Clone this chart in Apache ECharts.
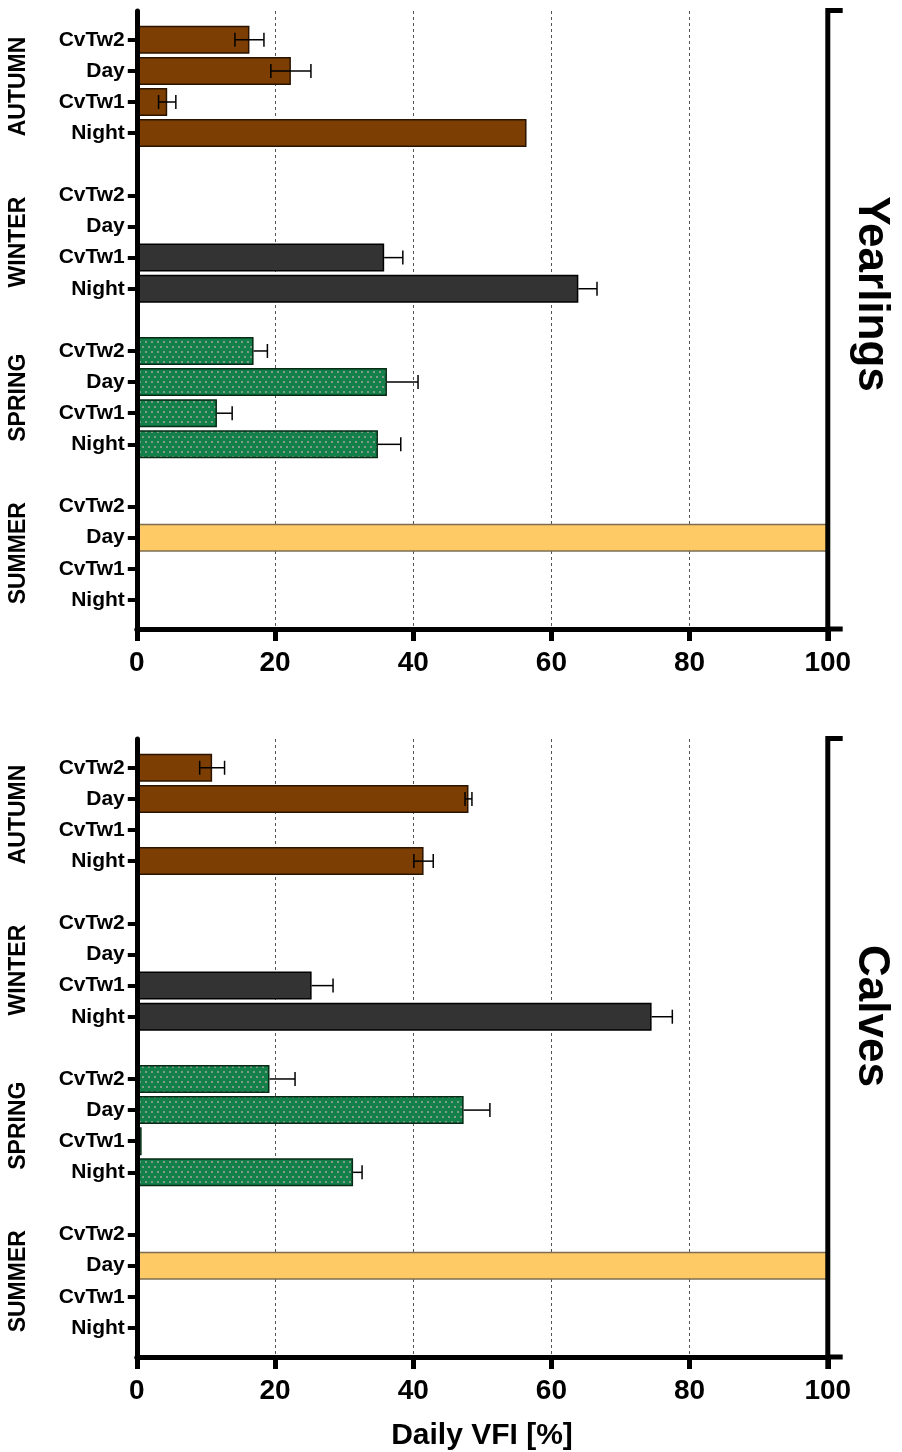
<!DOCTYPE html>
<html>
<head>
<meta charset="utf-8">
<script src="https://cdn.jsdelivr.net/npm/echarts@6/dist/echarts.min.js"></script>
<style>
html,body{margin:0;padding:0;background:#fff;}
#chart{width:902px;height:1452px;}
</style>
</head>
<body>
<div id="chart"></div>
<script>
// ---------------- data ----------------
const seasons = ['AUTUMN', 'WINTER', 'SPRING', 'SUMMER'];
const rowLabels = ['CvTw2', 'Day', 'CvTw1', 'Night'];
const panelTitles = ['Yearlings', 'Calves'];
const xTickValues = [0, 20, 40, 60, 80, 100];
const xTitle = 'Daily VFI [%]';

// Yearlings (rows: CvTw2, Day, CvTw1, Night)
const yearAutumn = [16.3, 22.3, 4.4, 56.4];
const yearAutumnErr = [2.1, 2.9, 1.25, 0];
const yearWinter = [0, 0, 35.8, 63.9];
const yearWinterErr = [0, 0, 2.7, 2.7];
const yearSpring = [16.9, 36.2, 11.6, 34.9];
const yearSpringErr = [2.0, 4.5, 2.2, 3.3];
const yearSummer = [0, 100, 0, 0];
const yearSummerErr = [0, 0, 0, 0];

// Calves
const calfAutumn = [10.9, 48.0, 0, 41.5];
const calfAutumnErr = [1.8, 0.5, 0, 1.4];
const calfWinter = [0, 0, 25.3, 74.5];
const calfWinterErr = [0, 0, 3.1, 3.0];
const calfSpring = [19.2, 47.3, 0.7, 31.3];
const calfSpringErr = [3.7, 3.8, 0, 1.3];
const calfSummer = [0, 100, 0, 0];
const calfSummerErr = [0, 0, 0, 0];

// ---------------- styling ----------------
const FONT = "'Liberation Sans', Arial, Helvetica, sans-serif";
const brown = '#7C3E03';
const dark = '#333333';
const green = '#13804A';
const yellow = '#FDCA66';

function dotPattern() {
  const c = document.createElement('canvas');
  c.width = 6; c.height = 10;
  const ctx = c.getContext('2d');
  ctx.fillStyle = green; ctx.fillRect(0, 0, 6, 10);
  ctx.fillStyle = '#7f9d8a';
  ctx.fillRect(1, 1, 2, 2);
  ctx.fillRect(4, 6, 2, 2);
  return c;
}
const greenFill = { image: dotPattern(), repeat: 'repeat' };

const seasonStyles = [
  { color: brown, borderColor: '#2a1400', errBoth: true },
  { color: dark, borderColor: '#000000', errBoth: false },
  { color: greenFill, borderColor: '#062a14', errBoth: false },
  { color: yellow, borderColor: '#7d6e50', errBoth: false }
];

// categories: 4 groups of 4 rows separated by gap rows
const catIds = [];
seasons.forEach((s, k) => {
  rowLabels.forEach(r => catIds.push(s + '|' + r));
  if (k < seasons.length - 1) catIds.push('gap' + k);
});
const isGap = v => String(v).indexOf('gap') === 0;

// ---------------- layout ----------------
const LEFT = 136.8, RIGHT = 902 - 827.8;
const panelOffsets = [0, 728];
const FRAME_TOP = 11, FRAME_H = 618;
const BAR_TOP = 24.2, BAR_H = 591.3;

const panels = [
  { means: [yearAutumn, yearWinter, yearSpring, yearSummer],
    errs: [yearAutumnErr, yearWinterErr, yearSpringErr, yearSummerErr] },
  { means: [calfAutumn, calfWinter, calfSpring, calfSummer],
    errs: [calfAutumnErr, calfWinterErr, calfSpringErr, calfSummerErr] }
];

const grid = [], xAxis = [], yAxis = [], series = [];

panels.forEach((p, pi) => {
  const off = panelOffsets[pi];
  const gFrame = grid.length;
  grid.push({ left: LEFT, right: RIGHT, top: FRAME_TOP + off, height: FRAME_H, containLabel: false });
  const gBar = grid.length;
  grid.push({ left: LEFT, right: RIGHT, top: BAR_TOP + off, height: BAR_H, containLabel: false });

  // frame axes
  const xF = xAxis.length;
  xAxis.push({
    type: 'value', gridIndex: gFrame, min: 0, max: 100, interval: 20, z: 0,
    axisLine: { show: true, lineStyle: { color: '#000', width: 5 } },
    axisTick: { show: true, length: 12, lineStyle: { color: '#000', width: 5 } },
    axisLabel: { show: true, fontFamily: FONT, fontSize: 28, fontWeight: 'bold', color: '#000', margin: 20,
      formatter: v => xTickValues.indexOf(v) >= 0 ? String(v) : '' },
    splitLine: { show: true, lineStyle: { color: '#555', width: 1, type: [3, 3] } }
  });
  const yF = yAxis.length;
  yAxis.push({
    type: 'value', gridIndex: gFrame, min: 0, max: 1, z: 10,
    axisLine: { show: true, onZero: false, lineStyle: { color: '#000', width: 5 } },
    axisTick: { show: false }, axisLabel: { show: false }, splitLine: { show: false }
  });

  // bar axes
  const xB = xAxis.length;
  xAxis.push({
    type: 'value', gridIndex: gBar, min: 0, max: 100, interval: 20, show: false,
    splitLine: { show: false }
  });
  const yB = yAxis.length;
  yAxis.push({
    type: 'category', gridIndex: gBar, data: catIds, inverse: true, z: 5,
    axisLine: { show: false },
    axisTick: { show: true, alignWithLabel: true, length: 9, interval: (i, v) => !isGap(v),
      lineStyle: { color: '#000', width: 4 } },
    axisLabel: { show: true, interval: 0, fontFamily: FONT, fontSize: 21, fontWeight: 'bold', color: '#000', margin: 12,
      formatter: v => isGap(v) ? '' : v.split('|')[1] },
    splitLine: { show: false }
  });

  const errData = [];
  seasons.forEach((s, k) => {
    const data = catIds.map(() => '-');
    p.means[k].forEach((m, j) => { data[k * 5 + j] = m; });
    const st = seasonStyles[k];
    series.push({
      type: 'bar', name: panelTitles[pi] + ' ' + s, xAxisIndex: xB, yAxisIndex: yB,
      data: data, barWidth: 28, barGap: '-100%', z: 2,
      itemStyle: { color: st.color, borderColor: st.borderColor, borderWidth: 1.5 },
      silent: true, animation: false
    });
    p.errs[k].forEach((e, j) => {
      if (e > 0) errData.push([k * 5 + j, p.means[k][j], e, st.errBoth ? 1 : 0]);
    });
  });

  series.push({
    type: 'custom', xAxisIndex: xB, yAxisIndex: yB, z: 4, silent: true, animation: false,
    encode: { x: [1, 2], y: 0 },
    data: errData,
    renderItem: (params, api) => {
      const yi = api.value(0), m = api.value(1), e = api.value(2), both = api.value(3);
      const pEnd = api.coord([m + e, yi]);
      const pStart = api.coord([both ? m - e : m, yi]);
      const h = 7;
      const st = { stroke: '#000', lineWidth: 1.5 };
      const kids = [
        { type: 'line', shape: { x1: pStart[0], y1: pStart[1], x2: pEnd[0], y2: pEnd[1] }, style: st },
        { type: 'line', shape: { x1: pEnd[0], y1: pEnd[1] - h, x2: pEnd[0], y2: pEnd[1] + h }, style: st }
      ];
      if (both) kids.push({ type: 'line', shape: { x1: pStart[0], y1: pStart[1] - h, x2: pStart[0], y2: pStart[1] + h }, style: st });
      return { type: 'group', children: kids };
    }
  });
});

const chart = echarts.init(document.getElementById('chart'), null, { renderer: 'canvas' });
chart.setOption({
  animation: false,
  backgroundColor: '#fff',
  grid: grid, xAxis: xAxis, yAxis: yAxis, series: series
});

// ---------------- decorations (labels, brackets) ----------------
const graphics = [];
panels.forEach((p, pi) => {
  const off = panelOffsets[pi];
  const yB = pi * 2 + 1;
  seasons.forEach((s, k) => {
    const a = chart.convertToPixel({ yAxisIndex: yB }, catIds[k * 5 + 1]);
    const b = chart.convertToPixel({ yAxisIndex: yB }, catIds[k * 5 + 2]);
    graphics.push({
      type: 'text', x: 19, y: (a + b) / 2, rotation: Math.PI / 2, z: 100,
      style: { text: s, fontFamily: FONT, fontSize: 23, fontWeight: 'bold', fill: '#000',
        align: 'center', verticalAlign: 'middle' }
    });
  });
  const xR = 827.8, top = FRAME_TOP + off - 0.5, bot = FRAME_TOP + FRAME_H + off;
  graphics.push({
    type: 'polyline', z: 100,
    shape: { points: [[842.7, top], [xR, top], [xR, bot], [842.7, bot]] },
    style: { stroke: '#000', lineWidth: 5, fill: null, lineJoin: 'miter', lineCap: 'butt' }
  });
  graphics.push({
    type: 'line', z: 100,
    shape: { x1: xR, y1: bot, x2: xR, y2: bot + 12 },
    style: { stroke: '#000', lineWidth: 5 }
  });
  graphics.push({
    type: 'text', x: 871, y: 294 + off * (722 / 728), rotation: -Math.PI / 2, z: 100,
    style: { text: panelTitles[pi], fontFamily: FONT, fontSize: 44, fontWeight: 'bold', fill: '#000',
      align: 'center', verticalAlign: 'middle' }
  });
});
graphics.push({
  type: 'text', x: 482, y: 1436, z: 100,
  style: { text: xTitle, fontFamily: FONT, fontSize: 30, fontWeight: 'bold', fill: '#000',
    align: 'center', verticalAlign: 'middle' }
});
chart.setOption({ graphic: graphics });
</script>
</body>
</html>
